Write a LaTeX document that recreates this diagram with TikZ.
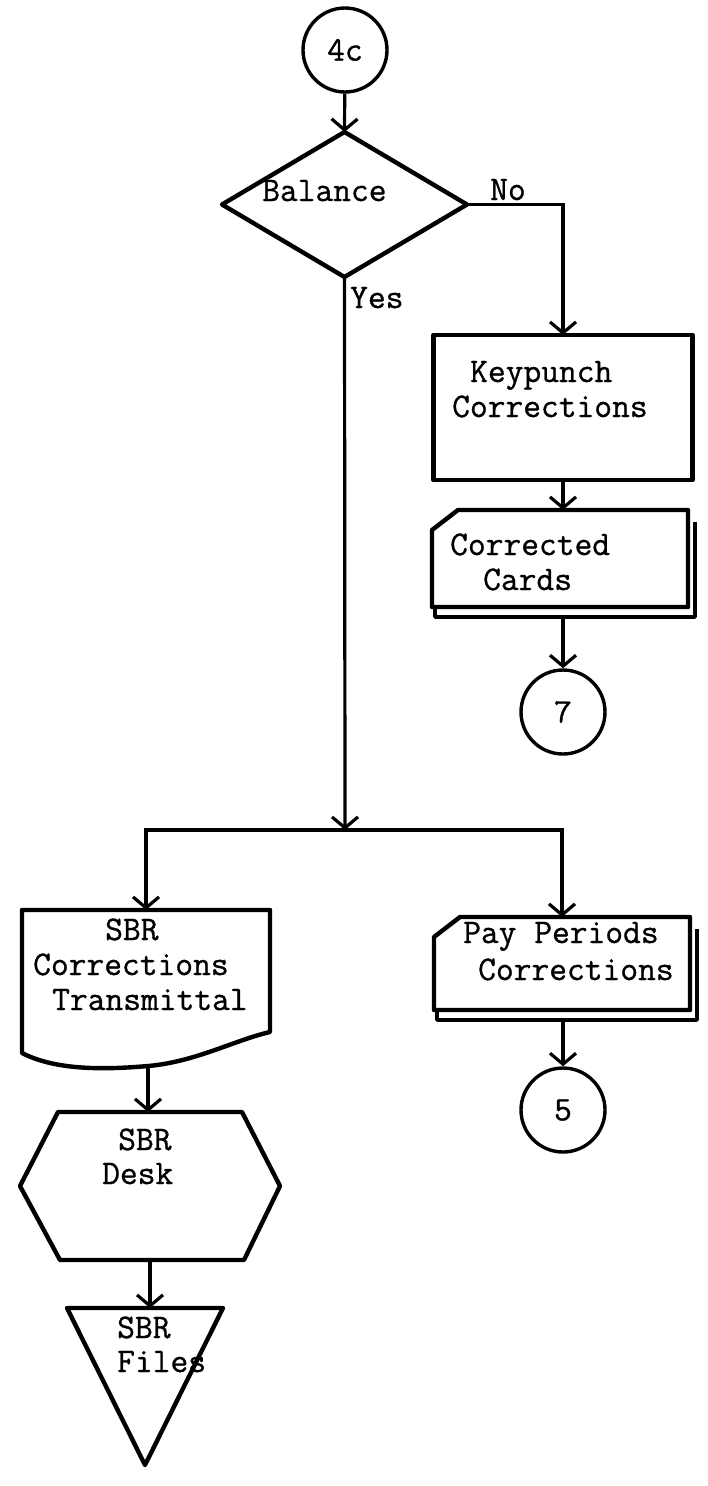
\documentclass[tikz,border=0pt]{standalone}
\usepackage{fontspec}
\newfontfamily\typer{Latin Modern Mono}[FakeBold=0.9]
\usetikzlibrary{arrows.meta,calc,shapes.geometric}
\begin{document}
\begin{tikzpicture}[x=1pt,y=-1pt,
  outline/.style={line width=4.4pt, line join=round},
  flow/.style={line width=3.2pt, -{Straight Barb[length=11pt,width=26pt]}},
  txt/.style={font=\fontsize{34.5}{38}\selectfont\typer, inner sep=0pt, anchor=base west},
  conn/.style={draw, circle, line width=3.4pt, minimum size=84pt, inner sep=0pt,
               font=\fontsize{34.5}{38}\selectfont\typer},
  frame/.style n args={2}{minimum width=#1, minimum height=#2, inner sep=0pt, outer sep=0pt}
]
% punched-card outline with a clipped corner and a second card behind it
\newcommand\cardoutline[1]{%
  \draw[outline] ($(#1.north west)+(0,20)$) -- ($(#1.north west)+(26,0)$)
     -- (#1.north east) -- (#1.south east) -- (#1.south west) -- cycle;
  \draw[outline, line width=3.4pt] ($(#1.south west)+(3,0)$) -- ($(#1.south west)+(3,10)$)
     -- ($(#1.south east)+(7,10)$) -- ($(#1.north east)+(7,12)$);}

\useasboundingbox[fill=white] (0,0) rectangle (707,1486);

% entry connector and decision
\node[conn] (c4c) at (345,50) {4c};
\node[draw, diamond, outline, frame={245pt}{145pt}] (dia) at (344.5,204.5) {};
\node[txt] (bal) at (262,201) {Balance};
\node[txt] (no) at (490,200) {No};
\node[txt] (yes) at (350,308) {Yes};
\draw[flow] (c4c) -- (dia.north);

% "No" branch
\node[draw, rectangle, outline, frame={259pt}{145pt}] (kp) at (563,407.5) {};
\node[txt] (kp1) at (470,382) {Keypunch};
\node[txt] (kp2) at (452,417) {Corrections};
\draw[flow] (dia.east) -| (kp.north);

\node[frame={256pt}{97pt}] (cc) at (560,558.5) {};
\cardoutline{cc}
\node[txt] (cc1) at (450,555) {Corrected};
\node[txt] (cc2) at (483,590) {Cards};
\draw[flow] (kp.south) -- (kp.south |- cc.north);

\node[conn] (c7) at (563,712) {7};
\draw[flow] ($(cc.south)+(3,10)$) -- (c7.north);

% "Yes" branch splits in two
\coordinate (bus) at (345,830);
\draw[flow] (dia.south) -- (bus);

% transmittal document
\node[frame={248pt}{143pt}] (xfer) at (146,981.5) {};
\coordinate (xferb) at ($(xfer.south)+(2,13)$);
\draw[outline] (xfer.north west) -- (xfer.north east) -- ($(xfer.south east)+(0,-21)$)
   .. controls ($(xfer.south east)+(-35,-13)$) and ($(xfer.south east)+(-75,9)$) .. (xferb)
   .. controls ($(xfer.south west)+(80,17)$) and ($(xfer.south west)+(33,17)$) .. (xfer.south west)
   -- cycle;
\node[txt] (x1) at (105,940) {SBR};
\node[txt] (x2) at (33,975) {Corrections};
\node[txt] (x3) at (52,1010) {Transmittal};
\draw[flow] (bus) -| (xfer.north);

% desk
\node[frame={260pt}{148pt}] (desk) at (150,1186) {};
\draw[outline] (desk.west) -- ($(desk.north west)+(38,0)$) -- ($(desk.north east)+(-38,0)$)
   -- (desk.east) -- ($(desk.south east)+(-36,0)$) -- ($(desk.south west)+(40,0)$) -- cycle;
\node[txt] (d1) at (118,1150) {SBR};
\node[txt] (d2) at (102,1184) {Desk};
\draw[flow] (xferb) -- (xferb |- desk.north);

% files
\node[frame={156pt}{157pt}] (files) at (145,1386.5) {};
\draw[outline] (files.north west) -- (files.north east) -- (files.south) -- cycle;
\node[txt] (f1) at (117,1338) {SBR};
\node[txt] (f2) at (117,1372) {Files};
\draw[flow] (desk.south) -- (desk.south |- files.north);

% pay periods cards
\node[frame={256pt}{93pt}] (pp) at (562,963.5) {};
\cardoutline{pp}
\node[txt] (p1) at (463,943) {Pay Periods};
\node[txt] (p2) at (478,980) {Corrections};
\draw[flow] (bus) -| (pp.north);

\node[conn] (c5) at (563,1110) {5};
\draw[flow] ($(pp.south)+(1,10)$) -- (c5.north);
\end{tikzpicture}
\end{document}
